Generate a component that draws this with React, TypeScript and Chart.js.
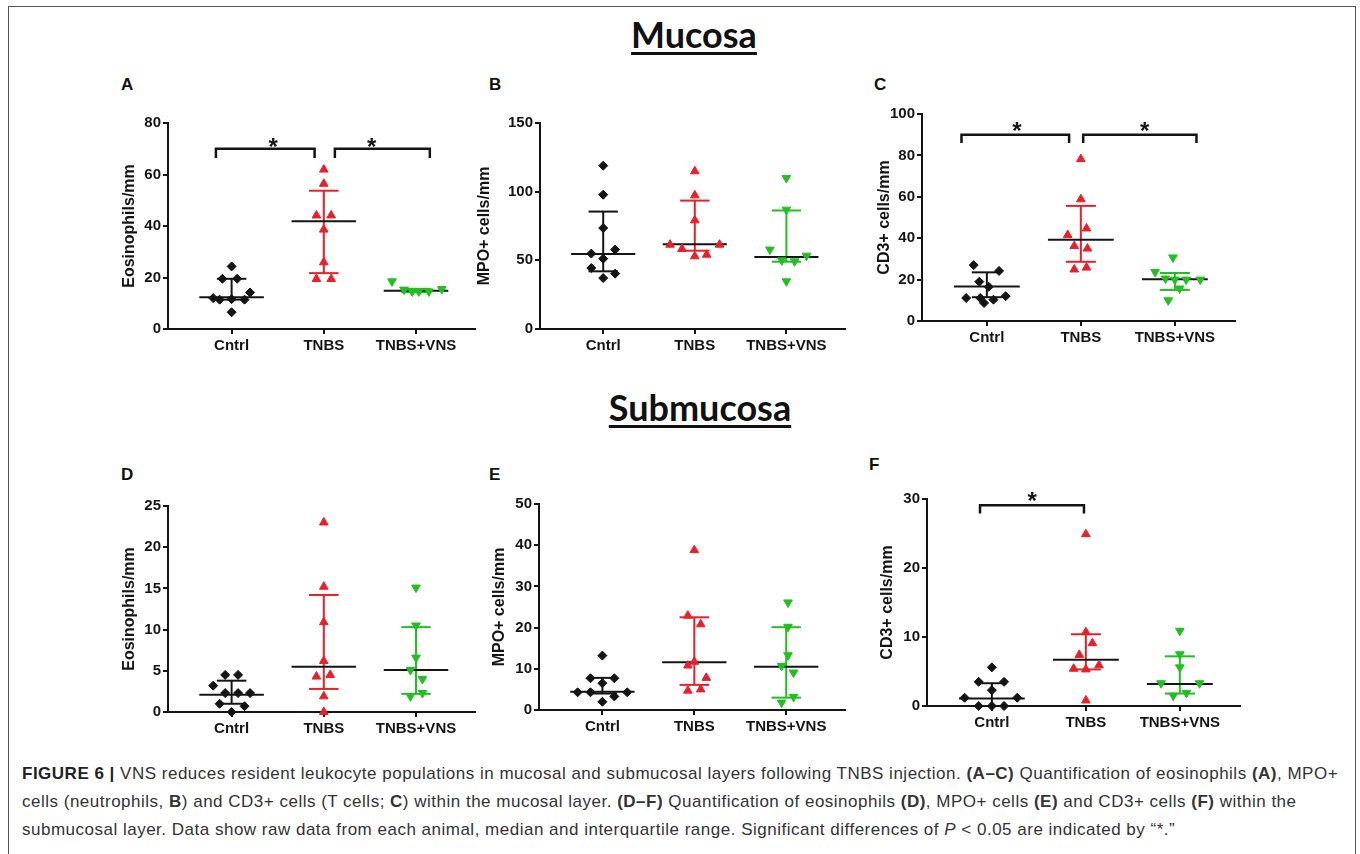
import React, { useEffect, useRef } from 'react';
import { Chart, registerables } from 'chart.js';

Chart.register(...registerables);

type Pt = [number, number];

const groupLabels = ['Cntrl', 'TNBS', 'TNBS+VNS'];

// Each point: [horizontal jitter from group centre, value]
// Panel A – Eosinophils/mm (mucosa)
const aCntrl: Pt[] = [[0, 24.3], [-0.1, 19.5], [0.06, 19.5], [0.2, 14.2], [-0.2, 12], [-0.13, 11.4], [0, 11.6], [0.14, 11.4], [0, 6.5]];
const aTnbs: Pt[] = [[0, 61.9], [0, 56.4], [-0.08, 44.1], [0.08, 44.1], [0, 38.6], [0, 25.9], [-0.08, 19.4], [0.08, 19.4]];
const aVns: Pt[] = [[-0.26, 18.5], [-0.13, 15.3], [-0.04, 14.6], [0.03, 14.6], [0.14, 14.6], [0.28, 15.5]];
const aMedian = [12.3, 41.8, 14.9];
const aQ1 = [11.4, 21.7, 14.3];
const aQ3 = [19.5, 53.7, 15.6];

// Panel B – MPO+ cells/mm (mucosa)
const bCntrl: Pt[] = [[0, 118.9], [0, 97.8], [0, 73.5], [-0.13, 54.9], [0.13, 57.8], [0, 51.2], [-0.13, 44.4], [0.13, 40.3], [0, 37.1]];
const bTnbs: Pt[] = [[0, 114.8], [0, 97.3], [0, 79.1], [-0.27, 61.4], [-0.14, 58.3], [0, 52.9], [0.13, 54.1], [0.27, 61.4]];
const bVns: Pt[] = [[0, 110], [0, 86.9], [-0.18, 57.8], [-0.05, 50], [0.09, 49.3], [0.22, 53.4], [0, 34.7]];
const bMedian = [54.6, 61.7, 52.4];
const bQ1 = [42, 57, 49];
const bQ3 = [85.5, 93.5, 86.3];

// Panel C – CD3+ cells/mm (mucosa)
const cCntrl: Pt[] = [[-0.14, 27], [0.13, 24.2], [-0.08, 19], [0.02, 16.5], [-0.22, 11.1], [-0.07, 11.1], [0.07, 10.3], [0.2, 12], [-0.03, 8.7]];
const cTnbs: Pt[] = [[0, 78.2], [0, 58.8], [0.06, 44.7], [-0.14, 41.5], [-0.07, 36.2], [0.07, 35], [-0.07, 24.9], [0.06, 25.8]];
const cVns: Pt[] = [[-0.02, 30.7], [-0.21, 23.7], [-0.1, 20.5], [0, 20], [0.12, 20], [0.27, 20], [0.05, 15.7], [-0.07, 10]];
const cMedian = [16.7, 39.3, 20.2];
const cQ1 = [11.5, 28.6, 15];
const cQ3 = [23.5, 55.6, 23.2];

// Panel D – Eosinophils/mm (submucosa)
const dCntrl: Pt[] = [[-0.07, 4.5], [0.07, 4.5], [-0.2, 3.2], [-0.07, 2.3], [0.07, 2.3], [0.2, 2.3], [-0.13, 1.0], [0.14, 0.7], [0, 0]];
const dTnbs: Pt[] = [[0, 23], [0, 15.2], [0, 10.9], [0, 6.2], [-0.08, 4.3], [0.07, 4.5], [0, 1.9], [0, 0]];
const dVns: Pt[] = [[0, 15.1], [0, 10.5], [0, 6.6], [-0.06, 5.1], [0.07, 4.0], [-0.06, 1.9], [0.07, 2.3]];
const dMedian = [2.1, 5.5, 5.1];
const dQ1 = [1.0, 2.8, 2.2];
const dQ3 = [3.8, 14.2, 10.3];

// Panel E – MPO+ cells/mm (submucosa)
const eCntrl: Pt[] = [[0, 13.2], [-0.13, 7.7], [0.13, 7.7], [0, 6.5], [-0.27, 4.3], [-0.13, 4.3], [0.13, 3.3], [0.27, 4.3], [0, 2.0]];
const eTnbs: Pt[] = [[0, 38.8], [-0.07, 22.9], [0.07, 20.8], [0, 11.7], [-0.07, 10.8], [0.13, 7.8], [-0.07, 4.7], [0.07, 5.0]];
const eVns: Pt[] = [[0.02, 26.1], [0.02, 20.2], [0.02, 13.3], [-0.05, 10.7], [0.08, 9.1], [-0.05, 1.8], [0.08, 3.2]];
const eMedian = [4.4, 11.6, 10.5];
const eQ1 = [4.0, 6.1, 3.0];
const eQ3 = [7.8, 22.5, 20.1];

// Panel F – CD3+ cells/mm (submucosa)
const fCntrl: Pt[] = [[0, 5.6], [-0.14, 3.5], [0.13, 3.5], [0, 2.3], [-0.29, 1.2], [0.27, 1.2], [-0.14, 0], [0, 0], [0.13, 0]];
const fTnbs: Pt[] = [[0, 24.9], [0, 10.7], [0.07, 9.1], [-0.07, 7.4], [-0.13, 5.4], [0, 5.3], [0.14, 5.9], [0, 0.8]];
const fVns: Pt[] = [[0, 10.9], [0, 7.5], [0, 5.6], [-0.2, 3.3], [0.21, 3.3], [-0.07, 1.5], [0.07, 1.9]];
const fMedian = [1.1, 6.7, 3.2];
const fQ1 = [0, 5.3, 1.8];
const fQ3 = [3.3, 10.4, 7.2];

// Significance brackets: [x left, x right, y top, y end]; stars: [x, y]
const aBrackets = [[0.83, 1.9, 70, 66.4], [2.12, 3.15, 70, 66.4]];
const aStars = [[1.45, 72.9], [2.52, 72.9]];
const cBrackets = [[0.73, 1.875, 90, 86], [2.025, 3.23, 90, 86]];
const cStars = [[1.32, 94.8], [2.68, 94.8]];
const fBrackets = [[0.874, 1.98, 29.1, 27.9]];
const fStars = [[1.43, 30.6]];

const groupColors = ['#141414', '#e8202a', '#22bf22'];
const groupStyles = ['rectRot', 'triangle', 'triangle'];
const groupRotation = [0, 0, 180];

interface PanelDef {
  id: string;
  letter: string;
  letterPos: [number, number];
  yTitle: string;
  yMax: number;
  yStep: number;
  groups: Pt[][];
  med: number[];
  q1: number[];
  q3: number[];
  brackets: number[][];
  stars: number[][];
  axisLeft: number;
  axisRight: number;
  yTopPx: number;
  yBottomPx: number;
  titleDist: number;
}

const panels: PanelDef[] = [
  { id: 'A', letter: 'A', letterPos: [127, 85], yTitle: 'Eosinophils/mm', yMax: 80, yStep: 20, groups: [aCntrl, aTnbs, aVns], med: aMedian, q1: aQ1, q3: aQ3, brackets: aBrackets, stars: aStars, axisLeft: 168, axisRight: 475, yTopPx: 123, yBottomPx: 329, titleDist: 38 },
  { id: 'B', letter: 'B', letterPos: [495, 85], yTitle: 'MPO+ cells/mm', yMax: 150, yStep: 50, groups: [bCntrl, bTnbs, bVns], med: bMedian, q1: bQ1, q3: bQ3, brackets: [], stars: [], axisLeft: 540, axisRight: 845, yTopPx: 123, yBottomPx: 329, titleDist: 55 },
  { id: 'C', letter: 'C', letterPos: [880, 85], yTitle: 'CD3+ cells/mm', yMax: 100, yStep: 20, groups: [cCntrl, cTnbs, cVns], med: cMedian, q1: cQ1, q3: cQ3, brackets: cBrackets, stars: cStars, axisLeft: 922, axisRight: 1235, yTopPx: 114, yBottomPx: 321, titleDist: 37 },
  { id: 'D', letter: 'D', letterPos: [127, 475], yTitle: 'Eosinophils/mm', yMax: 25, yStep: 5, groups: [dCntrl, dTnbs, dVns], med: dMedian, q1: dQ1, q3: dQ3, brackets: [], stars: [], axisLeft: 168, axisRight: 475, yTopPx: 506, yBottomPx: 712, titleDist: 38 },
  { id: 'E', letter: 'E', letterPos: [495, 475], yTitle: 'MPO+ cells/mm', yMax: 50, yStep: 10, groups: [eCntrl, eTnbs, eVns], med: eMedian, q1: eQ1, q3: eQ3, brackets: [], stars: [], axisLeft: 539, axisRight: 845, yTopPx: 504, yBottomPx: 710, titleDist: 39 },
  { id: 'F', letter: 'F', letterPos: [875, 465], yTitle: 'CD3+ cells/mm', yMax: 30, yStep: 10, groups: [fCntrl, fTnbs, fVns], med: fMedian, q1: fQ1, q3: fQ3, brackets: fBrackets, stars: fStars, axisLeft: 927, axisRight: 1240, yTopPx: 499, yBottomPx: 706, titleDist: 39 },
];

const FONT = '"Liberation Sans", Arial, Helvetica, sans-serif';
const PAD_TOP = 45;
const PAD_RIGHT = 15;
const Y_AXIS_W = 70;
const X_AXIS_H = 40;
const X_MIN = 0.31;
const X_MAX = 3.64;

const starPlugin = {
  id: 'sigStars',
  afterDatasetsDraw(chart: any, _args: any, opts: any) {
    const stars: number[][] = opts.stars || [];
    const { ctx } = chart;
    const xs = chart.scales.x;
    const ys = chart.scales.y;
    ctx.save();
    ctx.fillStyle = '#141414';
    ctx.font = `bold 24px ${FONT}`;
    ctx.textAlign = 'center';
    ctx.textBaseline = 'alphabetic';
    stars.forEach(([sx, sy]) => {
      ctx.fillText('*', xs.getPixelForValue(sx), ys.getPixelForValue(sy) + 24 * 0.58);
    });
    ctx.restore();
  },
};

function lineDs(data: { x: number; y: number }[], color: string, width: number, order: number) {
  return {
    data,
    showLine: true,
    borderColor: color,
    backgroundColor: color,
    borderWidth: width,
    pointRadius: 0,
    pointHoverRadius: 0,
    fill: false,
    tension: 0,
    order,
    clip: false as any,
    borderCapStyle: 'butt',
  };
}

function PanelChart({ p }: { p: PanelDef }) {
  const ref = useRef<HTMLCanvasElement | null>(null);
  const cw = p.axisRight - p.axisLeft + Y_AXIS_W + PAD_RIGHT;
  const ch = p.yBottomPx - p.yTopPx + PAD_TOP + X_AXIS_H;
  useEffect(() => {
    if (!ref.current) return;
    const datasets: any[] = [];
    p.groups.forEach((pts, gi) => {
      const cx = gi + 1;
      const col = groupColors[gi];
      datasets.push({
        data: pts.map(([dx, v]) => ({ x: cx + dx, y: v })),
        pointStyle: groupStyles[gi],
        rotation: groupRotation[gi],
        pointRadius: gi === 0 ? 4.5 : 5,
        pointHoverRadius: 0,
        backgroundColor: col,
        borderColor: col,
        borderWidth: 1,
        showLine: false,
        order: 0,
        clip: false,
      });
      datasets.push(lineDs([{ x: cx - 0.35, y: p.med[gi] }, { x: cx + 0.35, y: p.med[gi] }], '#141414', 2, 1));
      datasets.push(lineDs([{ x: cx, y: p.q1[gi] }, { x: cx, y: p.q3[gi] }], col, 2, 2));
      datasets.push(lineDs([{ x: cx - 0.16, y: p.q3[gi] }, { x: cx + 0.16, y: p.q3[gi] }], col, 2, 2));
      datasets.push(lineDs([{ x: cx - 0.16, y: p.q1[gi] }, { x: cx + 0.16, y: p.q1[gi] }], col, 2, 2));
    });
    p.brackets.forEach(([x1, x2, yt, yb]) => {
      datasets.push(lineDs([{ x: x1, y: yb }, { x: x1, y: yt }, { x: x2, y: yt }, { x: x2, y: yb }], '#141414', 2.5, 3));
    });
    const axisCommon = {
      grid: { drawOnChartArea: false, drawTicks: true, tickLength: 5, lineWidth: 2, color: '#141414' },
      border: { display: true, color: '#141414', width: 2 },
    };
    const titlePad = Y_AXIS_W - p.titleDist - 16 * 1.2 / 2;
    const chart = new Chart(ref.current, {
      type: 'scatter',
      data: { datasets },
      plugins: [starPlugin as any],
      options: {
        responsive: false,
        animation: false,
        devicePixelRatio: 1,
        events: [],
        layout: { padding: { left: 0, top: PAD_TOP, right: PAD_RIGHT, bottom: 0 } },
        plugins: {
          legend: { display: false },
          tooltip: { enabled: false },
          sigStars: { stars: p.stars },
        } as any,
        scales: {
          x: {
            type: 'linear',
            min: X_MIN,
            max: X_MAX,
            afterBuildTicks: (s: any) => {
              s.ticks = [1, 2, 3].map((v) => ({ value: v }));
            },
            afterFit: (s: any) => {
              s.height = X_AXIS_H;
            },
            ticks: {
              autoSkip: false,
              maxRotation: 0,
              padding: 3,
              color: '#141414',
              font: { family: FONT, size: 15, weight: 'bold' },
              callback: (v: any) => groupLabels[Math.round(Number(v)) - 1] ?? '',
            },
            ...axisCommon,
          },
          y: {
            type: 'linear',
            min: 0,
            max: p.yMax,
            afterFit: (s: any) => {
              s.width = Y_AXIS_W;
            },
            ticks: {
              stepSize: p.yStep,
              padding: 2,
              color: '#141414',
              font: { family: FONT, size: 15, weight: 'bold' },
            },
            title: {
              display: true,
              text: p.yTitle,
              color: '#141414',
              font: { family: FONT, size: 16, weight: 'bold', lineHeight: 1.2 },
              padding: { top: titlePad, bottom: 0 },
            },
            ...axisCommon,
          },
        } as any,
      },
    });
    return () => chart.destroy();
  }, [p]);
  return (
    <canvas
      ref={ref}
      width={cw}
      height={ch}
      style={{ position: 'absolute', left: p.axisLeft - Y_AXIS_W, top: p.yTopPx - PAD_TOP, width: cw, height: ch }}
    />
  );
}

const captionStyle: React.CSSProperties = {
  position: 'absolute',
  left: 22,
  whiteSpace: 'nowrap',
  fontFamily: FONT,
  fontSize: 17,
  letterSpacing: '0.5px',
  lineHeight: '18px',
  color: '#333',
};

const headingStyle: React.CSSProperties = {
  position: 'absolute',
  width: 400,
  textAlign: 'center',
  fontFamily: 'Lato, "Open Sans", sans-serif',
  fontWeight: 700,
  fontSize: 36,
  lineHeight: '36px',
  color: '#111',
  textDecoration: 'underline',
  textDecorationThickness: '2.5px',
  textUnderlineOffset: '4px',
};

export default function App() {
  return (
    <div style={{ position: 'absolute', left: 0, top: 0, width: 1360, height: 854, background: '#fff', overflow: 'hidden' }}>
      <div style={{ position: 'absolute', left: 8, top: 6, width: 1348, height: 900, border: '1.5px solid #555', boxSizing: 'border-box' }} />
      <div style={{ ...headingStyle, left: 494, top: 16 }}>Mucosa</div>
      <div style={{ ...headingStyle, left: 500, top: 389 }}>Submucosa</div>
      {panels.map((p) => (
        <div key={'l' + p.id} style={{ position: 'absolute', left: p.letterPos[0] - 6, top: p.letterPos[1] - 9, fontFamily: FONT, fontWeight: 700, fontSize: 17, lineHeight: '18px', color: '#111' }}>{p.letter}</div>
      ))}
      {panels.map((p) => (
        <PanelChart key={p.id} p={p} />
      ))}
      <div style={{ ...captionStyle, top: 765 }}>
        <b style={{ color: '#222' }}>FIGURE 6 |</b> VNS reduces resident leukocyte populations in mucosal and submucosal layers following TNBS injection. <b>(A–C)</b> Quantification of eosinophils <b>(A)</b>, MPO+
      </div>
      <div style={{ ...captionStyle, top: 793 }}>
        cells (neutrophils, <b>B</b>) and CD3+ cells (T cells; <b>C</b>) within the mucosal layer. <b>(D–F)</b> Quantification of eosinophils <b>(D)</b>, MPO+ cells <b>(E)</b> and CD3+ cells <b>(F)</b> within the
      </div>
      <div style={{ ...captionStyle, top: 821 }}>
        submucosal layer. Data show raw data from each animal, median and interquartile range. Significant differences of <i>P</i> &lt; 0.05 are indicated by “*.”
      </div>
    </div>
  );
}
